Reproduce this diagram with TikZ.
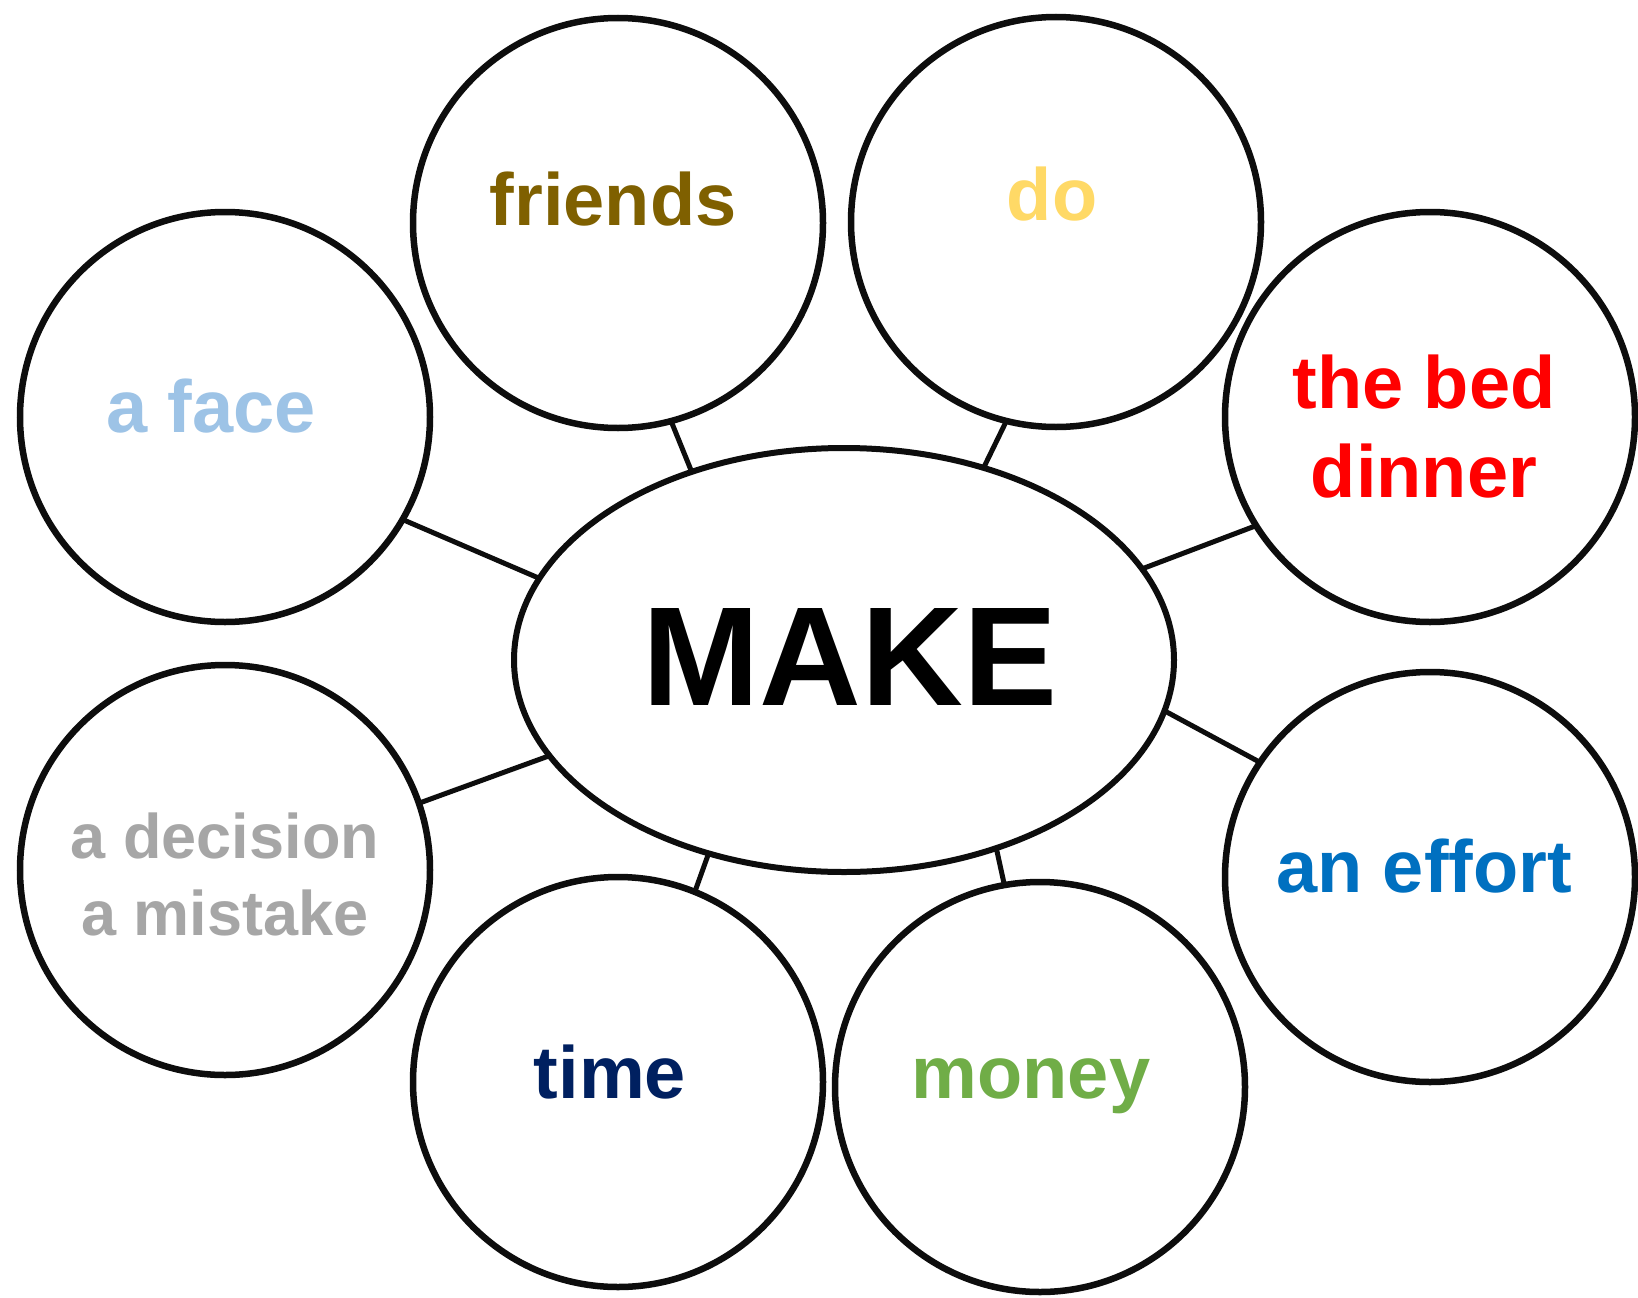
\documentclass[tikz,border=0pt]{standalone}
\usepackage{fontspec}
\setmainfont{Liberation Sans}
\usetikzlibrary{shapes.geometric}
\definecolor{cfriends}{RGB}{127,96,0}
\definecolor{cdo}{RGB}{255,217,102}
\definecolor{cface}{RGB}{157,195,230}
\definecolor{cbed}{RGB}{255,0,0}
\definecolor{cdecision}{RGB}{166,166,166}
\definecolor{ceffort}{RGB}{0,112,192}
\definecolor{ctime}{RGB}{0,32,96}
\definecolor{cmoney}{RGB}{112,173,71}
\tikzset{
  bubble/.style={circle, draw=black!95, line width=6.5pt, minimum size=410pt, inner sep=0pt, outer sep=0pt},
  hub/.style={ellipse, draw=black!95, line width=6pt, minimum width=660pt, minimum height=424pt, inner sep=0pt, outer sep=0pt},
  word/.style={anchor=base, inner sep=0pt, font=\bfseries\fontsize{74}{89}\selectfont, align=center},
  link/.style={draw=black!95, line width=5pt}
}
\begin{document}
\begin{tikzpicture}[x=1pt,y=-1pt]
\fill[white] (0,0) rectangle (1638,1298);
\useasboundingbox (0,0) rectangle (1638,1298);
% bubbles
\node[bubble] (friends) at (618,223) {};
\node[bubble] (do) at (1056,222) {};
\node[bubble] (face) at (225,417) {};
\node[bubble] (bed) at (1430,417) {};
\node[bubble] (decision) at (225,870) {};
\node[bubble] (effort) at (1430,877) {};
\node[bubble] (time) at (618,1082) {};
\node[bubble] (money) at (1040,1087) {};
\node[hub] (make) at (844,660) {};
% connectors
\draw[link] (friends.-75.8) -- (make.129.3);
\draw[link] (do.-104.5) -- (make.54.4);
\draw[link] (face.-30.8) -- (make.165.6);
\draw[link] (bed.-148.6) -- (make.17.1);
\draw[link] (decision.19.1) -- (make.198.4);
\draw[link] (effort.146) -- (make.-9.3);
\draw[link] (time.68.7) -- (make.-125.6);
\draw[link] (money.100.4) -- (make.-51.1);
% labels (base anchor = baseline of the last line)
\node[word, text=cfriends] (tfriends) at (613,225) {friends};
\node[word, text=cdo] (tdo) at (1052,220) {do};
\node[word, text=cface] (tface) at (211,432) {a face};
\node[word, text=cbed] (tbed) at (1424,497) {the bed\\dinner};
\node[word, text=cdecision, font=\bfseries\fontsize{63}{77}\selectfont] (tdecision) at (225,935) {a decision\\a mistake};
\node[word, text=ceffort] (teffort) at (1424,892) {an effort};
\node[word, text=ctime] (ttime) at (610,1098) {time};
\node[word, text=cmoney] (tmoney) at (1031,1098) {money};
\node[word, text=black, font=\bfseries\fontsize{141}{160}\selectfont] (tmake) at (850,705) {MAKE};
\end{tikzpicture}
\end{document}
